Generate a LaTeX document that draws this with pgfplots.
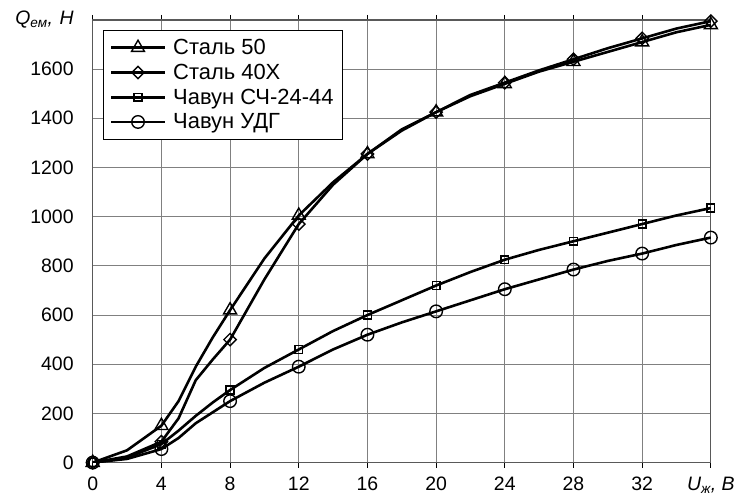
\documentclass[border=0pt]{standalone}
\usepackage{fontspec}
\setmainfont{Liberation Sans}
\usepackage{pgfplots}
\usepackage{pgfplotstable}
\pgfplotsset{compat=1.18}

% U, V -> Q, N ; marks only at every 4 V
\pgfplotstableread{
x    s50   s40   sch   udg
0    0     0     0     0
2    50    25    20    15
4    150   85    75    55
5    250   180   130   100
6    390   335   190   160
7    510   420   245   205
8    620   500   295   250
10   830   745   385   325
12   1005  970   460   390
14   1140  1130  535   460
16   1255  1255  600   520
18   1350  1355  660   570
20   1425  1425  720   615
22   1490  1495  775   660
24   1540  1545  825   705
26   1590  1595  865   745
28   1630  1640  900   785
30   1670  1685  935   820
32   1710  1725  970   850
34   1750  1765  1005  885
36   1780  1795  1035  915
}\data

\begin{document}
\begin{tikzpicture}
\begin{axis}[
    name=main,
    width=620pt, height=444pt, scale only axis,
    xmin=0, xmax=36, ymin=0, ymax=1800,
    xtick={0,4,...,36},
    xticklabels={0,4,8,12,16,20,24,28,32,{\itshape U\textsubscript{ж}, В}},
    ytick={0,200,...,1800},
    yticklabels={0,200,400,600,800,1000,1200,1400,1600,{\itshape Q\textsubscript{ем}, Н}},
    /pgf/number format/assume math mode=true,
    xticklabel style={font=\fontsize{19.5}{21}\selectfont, yshift=-6pt},
    yticklabel style={font=\fontsize{19.5}{21}\selectfont, anchor=east, align=right,
        text width=70pt, inner xsep=0pt},
    yticklabel shift=14pt,
    xtick style={draw=black, line width=0.8pt},
    ytick style={draw=none},
    major tick length=5pt,
    tick align=outside,
    grid=major,
    major grid style={draw=gray, line width=1pt},
    axis line style={draw=gray!70!black, line width=1.2pt},
    every axis plot/.append style={black, line width=2.6pt, mark indices={1,3,7,9,11,13,15,17,19,21}},
    legend cell align=left,
    legend style={at={(0.016,0.977)}, anchor=north west, draw=black,
        font=\fontsize{22}{23}\selectfont, row sep=4pt, column sep=5pt,
        inner xsep=7pt, inner ysep=7pt},
    legend image code/.code={
        \draw[line width=2.6pt, mark indices={2}] plot coordinates {(0pt,0pt) (27pt,0pt) (54pt,0pt)};
    },
]
\addplot[line width=2.6pt, mark=triangle, mark size=7.5pt, mark options={fill=white, line width=1.4pt}] table[x=x, y=s50] {\data};
\addlegendentry{Сталь 50}
\addplot[line width=2.6pt, mark=square, mark size=4.4pt, mark options={rotate=45, fill=white, line width=1.4pt}] table[x=x, y=s40] {\data};
\addlegendentry{Сталь 40Х}
\addplot[line width=2.6pt, mark=square, mark size=3.9pt, mark options={fill=white, line width=1.4pt}] table[x=x, y=sch] {\data};
\addlegendentry{Чавун СЧ-24-44}
\addplot[line width=2.6pt, mark=o, mark size=6.3pt, mark options={fill=white, line width=1.4pt}] table[x=x, y=udg] {\data};
\addlegendentry{Чавун УДГ}
\end{axis}
\path ([xshift=-93pt, yshift=20pt]main.north west);
\end{tikzpicture}
\end{document}
